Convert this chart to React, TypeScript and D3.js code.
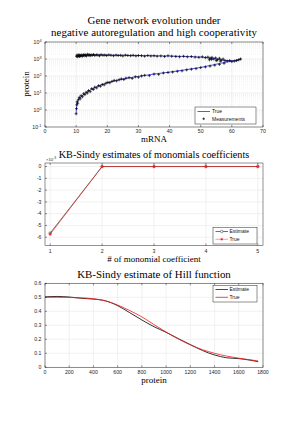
import React from "react";
import * as d3 from "d3";

// ---------- Data ----------
// Plot 1: trajectory (mRNA, protein)
const trueMRNA = [10, 10.1, 10.3, 10.6, 11, 12, 13, 14, 15, 17, 20, 23, 26, 30, 35, 40, 45, 50, 54, 57, 60, 62, 63, 62, 60, 58, 56, 54, 52, 50, 45, 40, 35, 30, 25, 20, 15, 12, 10];
const trueProtein = [0.6, 1.2, 2.5, 3.8, 5, 7, 10, 13, 17, 25, 40, 55, 72, 95, 130, 170, 230, 320, 450, 600, 750, 900, 1000, 850, 780, 820, 950, 1080, 1200, 1300, 1400, 1500, 1550, 1600, 1650, 1700, 1750, 1650, 1500];

const measMRNA = [
  10.1, 10.3, 10.5, 10.7, 10.9, 11.1, 11.3, 11.5, 11.8, 12.0, 12.3, 12.5, 12.8, 13.0, 13.3, 13.6, 13.9, 14.2, 14.5, 14.8,
  15.2, 15.6, 16.0, 16.5, 17.0, 17.5, 18.0, 18.6, 19.2, 19.8, 20.5, 21.2, 22.0, 22.8, 23.5, 24.3, 25.0, 25.8, 26.6, 27.5,
  28.3, 29.2, 30.0, 31.0, 32.0, 33.0, 34.0, 35.0, 36.0, 37.2, 38.4, 39.5, 40.7, 42.0, 43.2, 44.5, 45.7, 47.0, 48.2, 49.4,
  50.5, 51.5, 52.3, 53.0, 53.6, 54.2, 54.8, 55.4, 56.0, 56.6, 57.2, 57.8, 52.8, 53.5, 55.0, 56.3, 58.5, 59.3, 60.0, 60.8,
  61.5, 62.2, 62.8,
  10.0, 10.1, 10.2, 10.3, 10.5, 10.7, 11.0, 11.3, 11.6, 12.0, 12.4, 12.8, 13.2, 13.6, 14.0, 14.5, 15.0, 15.5, 16.0, 16.6,
  17.2, 17.8, 18.4, 19.0, 19.6, 20.2, 20.8, 21.5, 22.2, 23.0, 23.8, 24.5, 25.3, 26.0, 27.0, 28.0, 29.0, 30.0, 31.0, 32.0,
  33.5, 35.0, 36.5, 38.0, 39.5, 41.0, 42.5, 44.0, 45.5, 47.0, 48.5, 50.0, 51.5, 53.0, 54.5, 56.0, 57.5
];
const measProtein = [
  1450, 1700, 1350, 1550, 1800, 1400, 1650, 1500, 1750, 1450, 1600, 1850, 1550, 1700, 1500, 1900, 1650, 1800, 1550, 1750,
  1650, 1850, 1600, 1750, 1700, 1550, 1800, 1650, 1700, 1600, 1750, 1650, 1550, 1700, 1600, 1650, 1500, 1700, 1600, 1550,
  1650, 1500, 1600, 1550, 1450, 1600, 1500, 1550, 1450, 1500, 1400, 1550, 1450, 1400, 1350, 1450, 1350, 1400, 1300, 1250,
  1350, 1200, 1300, 1100, 1250, 1000, 1150, 900, 1100, 850, 1000, 800, 900, 950, 800, 750, 750, 800, 700, 750,
  800, 900, 1000,
  0.6, 1.2, 2.0, 3.0, 2.5, 4, 5.5, 4.5, 7, 6, 9, 8, 11, 10, 14, 12, 18, 16, 22, 20,
  27, 25, 32, 30, 38, 42, 40, 48, 55, 52, 60, 68, 62, 75, 80, 72, 90, 85, 100, 110,
  105, 130, 125, 150, 160, 170, 190, 200, 230, 250, 270, 310, 340, 380, 430, 480, 560
];

// Plot 2: monomial coefficients (x 1e-3)
const coefIndex = [1, 2, 3, 4, 5];
const coefEstimate = [-5.65, 0, 0, 0, 0];
const coefTrue = [-5.75, 0, 0, 0, 0];

// Plot 3: Hill function
const proteinGrid = [0, 100, 200, 300, 400, 500, 600, 700, 800, 900, 1000, 1100, 1200, 1300, 1400, 1500, 1600, 1700, 1760];
const hillTrue = [0.5, 0.5, 0.499, 0.496, 0.49, 0.474, 0.445, 0.405, 0.36, 0.305, 0.252, 0.203, 0.16, 0.126, 0.1, 0.08, 0.065, 0.053, 0.045];
const hillEst = [0.503, 0.506, 0.502, 0.493, 0.487, 0.475, 0.44, 0.39, 0.338, 0.29, 0.25, 0.205, 0.162, 0.12, 0.088, 0.068, 0.062, 0.05, 0.04];

const p1XTicks = [0, 10, 20, 30, 40, 50, 60, 70];
const p1YExp = [-1, 0, 1, 2, 3, 4];
const p2XTicks = [1, 2, 3, 4, 5];
const p2YTicks = [0, -1, -2, -3, -4, -5, -6];
const p3XTicks = [0, 200, 400, 600, 800, 1000, 1200, 1400, 1600, 1800];
const p3YTicks = [0, 0.1, 0.2, 0.3, 0.4, 0.5, 0.6];

// ---------- Styles ----------
const SERIF = "'Liberation Serif', 'DejaVu Serif', serif";
const SANS = "'Liberation Sans', Arial, sans-serif";
const AX = "#262626";
const GRID = "#e3e3e3";
const TICKF = 5.2;
const RED = "#f01c1c";
const BLUE = "#2b2bff";

const L = 45, R = 263;

const serifStyle = { fontFamily: SERIF };
const sansStyle = { fontFamily: SANS };

export default function App() {
  const x1 = d3.scaleLinear().domain([0, 70]).range([L, R]);
  const y1 = d3.scaleLog().domain([0.1, 1e4]).range([127, 42]);
  const x2 = d3.scaleLinear().domain([0.9, 5.1]).range([L, R]);
  const y2 = d3.scaleLinear().domain([-6.7, 0.3]).range([245.5, 163]);
  const x3 = d3.scaleLinear().domain([0, 1800]).range([L, R]);
  const y3 = d3.scaleLinear().domain([0, 0.6]).range([367.3, 283.3]);

  const line1 = d3.line<number>().x((_, i) => x1(trueMRNA[i])).y((d) => y1(d)).curve(d3.curveLinear);
  const line2e = d3.line<number>().x((_, i) => x2(coefIndex[i])).y((d) => y2(d));
  const line3 = d3.line<number>().x((_, i) => x3(proteinGrid[i])).y((d) => y3(d)).curve(d3.curveMonotoneX);

  const minor: number[] = [];
  for (let e = -1; e < 4; e++) for (let k = 2; k <= 9; k++) minor.push(k * Math.pow(10, e));

  const star = (cx: number, cy: number, s: number, key: string) => (
    <g key={key} stroke={RED} strokeWidth={0.7}>
      <line x1={cx - s} y1={cy} x2={cx + s} y2={cy} />
      <line x1={cx} y1={cy - s} x2={cx} y2={cy + s} />
      <line x1={cx - s * 0.7} y1={cy - s * 0.7} x2={cx + s * 0.7} y2={cy + s * 0.7} />
      <line x1={cx - s * 0.7} y1={cy + s * 0.7} x2={cx + s * 0.7} y2={cy - s * 0.7} />
    </g>
  );
  const plus = (cx: number, cy: number, s: number, key: string) => (
    <g key={key} stroke="#000" strokeWidth={0.7}>
      <line x1={cx - s} y1={cy} x2={cx + s} y2={cy} />
      <line x1={cx} y1={cy - s} x2={cx} y2={cy + s} />
    </g>
  );

  return (
    <svg width={298} height={421} style={{ position: "absolute", left: 0, top: 0, background: "#fff" }}>
      <rect x={0} y={0} width={298} height={421} fill="#fff" />

      {/* ===== Plot 1 ===== */}
      <text x={154} y={24} textAnchor="middle" style={serifStyle} fontSize={10.9}>Gene network evolution under</text>
      <text x={154} y={35.5} textAnchor="middle" style={serifStyle} fontSize={10.9} textLength={206} lengthAdjust="spacing">negative autoregulation and high cooperativity</text>
      {minor.map((v, i) => (
        <line key={"m" + i} x1={L} x2={R} y1={y1(v)} y2={y1(v)} stroke="#ebebeb" strokeWidth={0.5} strokeDasharray="1,1" />
      ))}
      {p1YExp.map((e) => (
        <line key={"gy" + e} x1={L} x2={R} y1={y1(Math.pow(10, e))} y2={y1(Math.pow(10, e))} stroke={GRID} strokeWidth={0.5} />
      ))}
      {p1XTicks.map((t) => (
        <line key={"gx" + t} x1={x1(t)} x2={x1(t)} y1={42} y2={127} stroke={GRID} strokeWidth={0.5} />
      ))}
      <path d={line1(trueProtein) || ""} fill="none" stroke={BLUE} strokeWidth={0.8} />
      {measProtein.map((p, i) => plus(x1(measMRNA[i]), y1(p), 1.5, "ms" + i))}
      <rect x={L} y={42} width={R - L} height={85} fill="none" stroke={AX} strokeWidth={0.5} />
      {p1XTicks.map((t) => (
        <g key={"xt" + t}>
          <line x1={x1(t)} x2={x1(t)} y1={127} y2={125} stroke={AX} strokeWidth={0.5} />
          <line x1={x1(t)} x2={x1(t)} y1={42} y2={44} stroke={AX} strokeWidth={0.5} />
          <text x={x1(t)} y={133} textAnchor="middle" style={sansStyle} fontSize={TICKF} fill={AX}>{t}</text>
        </g>
      ))}
      {p1YExp.map((e) => (
        <g key={"yt" + e}>
          <line x1={L} x2={L + 2} y1={y1(Math.pow(10, e))} y2={y1(Math.pow(10, e))} stroke={AX} strokeWidth={0.5} />
          <text x={41.5} y={y1(Math.pow(10, e)) + 2} textAnchor="end" style={sansStyle} fontSize={TICKF} fill={AX}>
            10<tspan fontSize={3.8} dy={-2}>{e}</tspan>
          </text>
        </g>
      ))}
      <text x={154} y={141.5} textAnchor="middle" style={serifStyle} fontSize={9}>mRNA</text>
      <text transform="translate(29,84) rotate(-90)" textAnchor="middle" style={serifStyle} fontSize={9}>protein</text>
      {/* legend 1 */}
      <rect x={195} y={107} width={61} height={17} fill="#fff" stroke={AX} strokeWidth={0.5} />
      <line x1={197.5} x2={210} y1={111.5} y2={111.5} stroke={BLUE} strokeWidth={0.8} />
      <text x={212} y={113.3} style={sansStyle} fontSize={5} fill="#111">True</text>
      {plus(203.7, 118.8, 1.3, "lgp")}
      <text x={212} y={120.6} style={sansStyle} fontSize={5} fill="#111">Measurements</text>

      {/* ===== Plot 2 ===== */}
      <text x={154} y={158.3} textAnchor="middle" style={serifStyle} fontSize={10.2}>KB-Sindy estimates of monomials coefficients</text>
      {p2YTicks.map((t) => (
        <line key={"g2y" + t} x1={L} x2={R} y1={y2(t)} y2={y2(t)} stroke={GRID} strokeWidth={0.5} />
      ))}
      {p2XTicks.map((t) => (
        <line key={"g2x" + t} x1={x2(t)} x2={x2(t)} y1={163} y2={245.5} stroke={GRID} strokeWidth={0.5} />
      ))}
      <path d={line2e(coefEstimate) || ""} fill="none" stroke="#333" strokeWidth={0.7} />
      {coefEstimate.map((v, i) => (
        <circle key={"ce" + i} cx={x2(coefIndex[i])} cy={y2(v)} r={1.3} fill="none" stroke="#333" strokeWidth={0.5} />
      ))}
      <path d={line2e(coefTrue) || ""} fill="none" stroke={RED} strokeWidth={0.7} strokeOpacity={0.85} />
      {coefTrue.map((v, i) => star(x2(coefIndex[i]), y2(v), 1.5, "ct" + i))}
      <rect x={L} y={163} width={R - L} height={82.5} fill="none" stroke={AX} strokeWidth={0.5} />
      {p2XTicks.map((t) => (
        <g key={"x2t" + t}>
          <line x1={x2(t)} x2={x2(t)} y1={245.5} y2={243.5} stroke={AX} strokeWidth={0.5} />
          <line x1={x2(t)} x2={x2(t)} y1={163} y2={165} stroke={AX} strokeWidth={0.5} />
          <text x={x2(t)} y={252.5} textAnchor="middle" style={sansStyle} fontSize={TICKF} fill={AX}>{t}</text>
        </g>
      ))}
      {p2YTicks.map((t) => (
        <g key={"y2t" + t}>
          <line x1={L} x2={L + 2} y1={y2(t)} y2={y2(t)} stroke={AX} strokeWidth={0.5} />
          <text x={41.5} y={y2(t) + 1.8} textAnchor="end" style={sansStyle} fontSize={TICKF} fill={AX}>{t}</text>
        </g>
      ))}
      <text x={46} y={160.5} style={sansStyle} fontSize={4.2} fill={AX}>
        ×10<tspan fontSize={3.3} dy={-1.6}>-3</tspan>
      </text>
      <text x={154} y={262} textAnchor="middle" style={serifStyle} fontSize={9}># of monomial coefficient</text>
      {/* legend 2 */}
      <rect x={213} y={227.3} width={44} height={16.7} fill="#fff" stroke={AX} strokeWidth={0.5} />
      <line x1={215.5} x2={228} y1={231.5} y2={231.5} stroke="#333" strokeWidth={0.7} />
      <circle cx={221.7} cy={231.5} r={1.3} fill="#fff" stroke="#333" strokeWidth={0.5} />
      <text x={229.5} y={233.3} style={sansStyle} fontSize={5} fill="#111">Estimate</text>
      <line x1={215.5} x2={228} y1={239.3} y2={239.3} stroke={RED} strokeWidth={0.7} strokeOpacity={0.6} />
      {star(221.7, 239.3, 1.2, "lgs")}
      <text x={229.5} y={241.1} style={sansStyle} fontSize={5} fill="#111">True</text>

      {/* ===== Plot 3 ===== */}
      <text x={154} y={278} textAnchor="middle" style={serifStyle} fontSize={10.9}>KB-Sindy estimate of Hill function</text>
      {p3YTicks.map((t) => (
        <line key={"g3y" + t} x1={L} x2={R} y1={y3(t)} y2={y3(t)} stroke={GRID} strokeWidth={0.5} />
      ))}
      {p3XTicks.map((t) => (
        <line key={"g3x" + t} x1={x3(t)} x2={x3(t)} y1={283.3} y2={367.3} stroke={GRID} strokeWidth={0.5} />
      ))}
      <path d={line3(hillEst) || ""} fill="none" stroke="#1a1a1a" strokeWidth={0.9} />
      <path d={line3(hillTrue) || ""} fill="none" stroke={RED} strokeWidth={0.8} />
      <rect x={L} y={283.3} width={R - L} height={84} fill="none" stroke={AX} strokeWidth={0.5} />
      {p3XTicks.map((t) => (
        <g key={"x3t" + t}>
          <line x1={x3(t)} x2={x3(t)} y1={367.3} y2={365.3} stroke={AX} strokeWidth={0.5} />
          <line x1={x3(t)} x2={x3(t)} y1={283.3} y2={285.3} stroke={AX} strokeWidth={0.5} />
          <text x={x3(t)} y={373.5} textAnchor="middle" style={sansStyle} fontSize={TICKF} fill={AX}>{t}</text>
        </g>
      ))}
      {p3YTicks.map((t) => (
        <g key={"y3t" + t}>
          <line x1={L} x2={L + 2} y1={y3(t)} y2={y3(t)} stroke={AX} strokeWidth={0.5} />
          <text x={41.5} y={y3(t) + 1.8} textAnchor="end" style={sansStyle} fontSize={TICKF} fill={AX}>{t}</text>
        </g>
      ))}
      <text x={154} y={382.5} textAnchor="middle" style={serifStyle} fontSize={9}>protein</text>
      {/* legend 3 */}
      <rect x={213} y={285.3} width={44} height={16.7} fill="#fff" stroke={AX} strokeWidth={0.5} />
      <line x1={215.5} x2={228} y1={289.5} y2={289.5} stroke="#1a1a1a" strokeWidth={0.8} />
      <text x={229.5} y={291.3} style={sansStyle} fontSize={5} fill="#111">Estimate</text>
      <line x1={215.5} x2={228} y1={297.3} y2={297.3} stroke={RED} strokeWidth={0.8} />
      <text x={229.5} y={299.1} style={sansStyle} fontSize={5} fill="#111">True</text>
    </svg>
  );
}
